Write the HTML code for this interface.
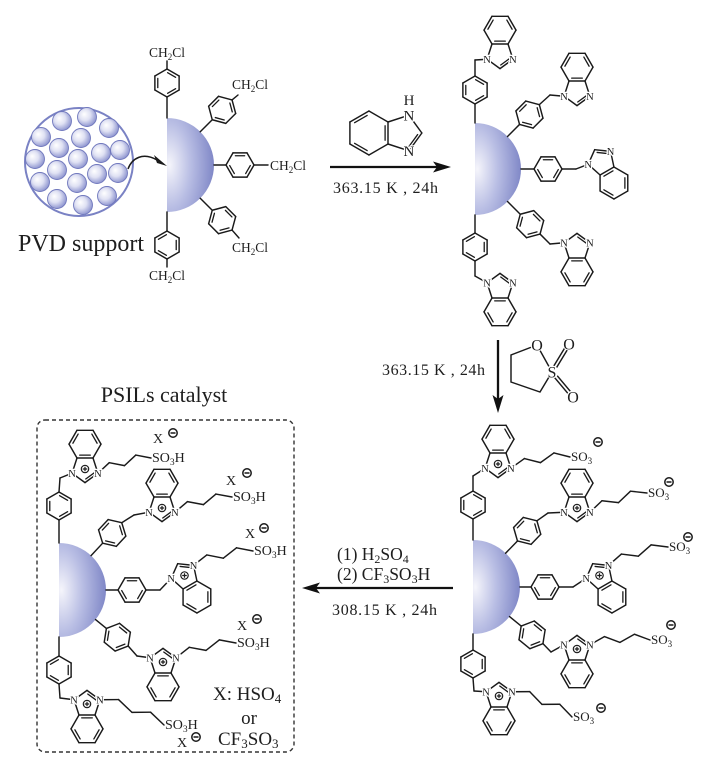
<!DOCTYPE html>
<html><head><meta charset="utf-8">
<style>
html,body{margin:0;padding:0;background:#fff;}
svg{display:block;}
text{font-family:"Liberation Serif",serif;fill:#1e1e1e;}
.lbl{paint-order:stroke;stroke:#fff;stroke-width:2.6;stroke-linejoin:round;}
</style></head><body>
<svg id="s" width="711" height="766" viewBox="0 0 711 766" xmlns="http://www.w3.org/2000/svg">
<defs>
<radialGradient id="hg" cx="0.05" cy="0.5" r="1" fx="0.05" fy="0.5">
<stop offset="0" stop-color="#f5f5fb"/>
<stop offset="0.45" stop-color="#b9bee4"/>
<stop offset="1" stop-color="#7a82c4"/>
</radialGradient>
<radialGradient id="bg" cx="0.42" cy="0.42" r="0.6" fx="0.35" fy="0.35">
<stop offset="0" stop-color="#ffffff"/>
<stop offset="0.5" stop-color="#dfe1f3"/>
<stop offset="1" stop-color="#8d94cf"/>
</radialGradient>
</defs>

<!-- porous support -->
<circle cx="79" cy="162" r="54" fill="#fff" stroke="#7a82c4" stroke-width="2"/>
<g fill="url(#bg)" stroke="#7078bd" stroke-width="0.9">
<circle cx="62" cy="121" r="9.5"/><circle cx="87" cy="117" r="9.5"/><circle cx="109" cy="128" r="9.5"/>
<circle cx="41" cy="137" r="9.5"/><circle cx="81" cy="138" r="9.5"/><circle cx="59" cy="148" r="9.5"/>
<circle cx="101" cy="153" r="9.5"/><circle cx="120" cy="150" r="9.5"/><circle cx="35" cy="159" r="9.5"/>
<circle cx="78" cy="159" r="9.5"/><circle cx="57" cy="170" r="9.5"/><circle cx="97" cy="174" r="9.5"/>
<circle cx="118" cy="173" r="9.5"/><circle cx="40" cy="182" r="9.5"/><circle cx="77" cy="183" r="9.5"/>
<circle cx="57" cy="199" r="9.5"/><circle cx="107" cy="196" r="9.5"/><circle cx="83" cy="205" r="9.5"/>
</g>
<path d="M128,169 C132,158 143,152 157,160" fill="none" stroke="#1a1a1a" stroke-width="1.5"/>
<polygon points="154,155 167,166 157,163" fill="#1a1a1a"/>

<!-- hemispheres -->
<path d="M167,118 A47,47 0 0 1 167,212 Z" fill="url(#hg)"/>
<path d="M475,123 A46,46 0 0 1 475,215 Z" fill="url(#hg)"/>
<path d="M473,540 A47,47 0 0 1 473,634 Z" fill="url(#hg)"/>
<path d="M59,543 A47,47 0 0 1 59,637 Z" fill="url(#hg)"/>

<!-- dashed box -->
<rect x="37" y="420" width="257" height="332" rx="8" fill="none" stroke="#333" stroke-width="1.4" stroke-dasharray="4 3"/>

<!-- arrows -->
<g stroke="#111" stroke-width="2.3">
<line x1="330" y1="167" x2="440" y2="167"/>
<line x1="498" y1="340" x2="498" y2="400"/>
<line x1="453" y1="588" x2="313" y2="588"/>
</g>
<g fill="#111">
<polygon points="451,167 433,161.5 437,167 433,172.5"/>
<polygon points="498,413 492.5,395 498,399 503.5,395"/>
<polygon points="302,588 320,582.5 316,588 320,593.5"/>
</g>

<!-- sultone -->
<g stroke="#1a1a1a" stroke-width="1.45" fill="none">
<path d="M537,345 L511,355 L511,382 L540,392 L552,372 Z"/>
<line x1="553.4" y1="372.8" x2="570.4" y2="344.8"/>
<line x1="550.6" y1="371.2" x2="567.6" y2="343.2"/>
<line x1="553.4" y1="371.2" x2="574.4" y2="396.2"/>
<line x1="550.6" y1="372.8" x2="571.6" y2="397.8"/>
</g>
<g fill="#fff">
<circle cx="537" cy="345" r="6.5"/><circle cx="552" cy="372" r="6.5"/>
<circle cx="569" cy="344" r="6.5"/><circle cx="573" cy="397" r="6.5"/>
</g>

<g id="L" stroke="#1a1a1a" stroke-linecap="round" fill="none"></g>
<g id="T"></g>

<!-- static text -->
<g font-size="13.5">
<text x="167" y="57" text-anchor="middle">CH<tspan dy="3" font-size="9">2</tspan><tspan dy="-3">Cl</tspan></text>
<text x="232" y="89">CH<tspan dy="3" font-size="9">2</tspan><tspan dy="-3">Cl</tspan></text>
<text x="270" y="170">CH<tspan dy="3" font-size="9">2</tspan><tspan dy="-3">Cl</tspan></text>
<text x="232" y="252">CH<tspan dy="3" font-size="9">2</tspan><tspan dy="-3">Cl</tspan></text>
<text x="167" y="280" text-anchor="middle">CH<tspan dy="3" font-size="9">2</tspan><tspan dy="-3">Cl</tspan></text>
</g>
<text x="18" y="251" font-size="24">PVD support</text>
<text x="333" y="193" font-size="16" textLength="105" lengthAdjust="spacing">363.15 K , 24h</text>
<text x="382" y="375" font-size="16" textLength="103" lengthAdjust="spacing">363.15 K , 24h</text>
<text x="337" y="560" font-size="17.5">(1) H<tspan dy="3" font-size="12">2</tspan><tspan dy="-3">SO</tspan><tspan dy="3" font-size="12">4</tspan></text>
<text x="337" y="580" font-size="17.5">(2) CF<tspan dy="3" font-size="12">3</tspan><tspan dy="-3">SO</tspan><tspan dy="3" font-size="12">3</tspan><tspan dy="-3">H</tspan></text>
<text x="332" y="615" font-size="16" textLength="105" lengthAdjust="spacing">308.15 K , 24h</text>
<text x="164" y="402" font-size="22" text-anchor="middle">PSILs catalyst</text>

<g font-size="16">
<text x="537" y="350.5" text-anchor="middle">O</text>
<text x="552" y="377.5" text-anchor="middle">S</text>
<text x="569" y="349.5" text-anchor="middle">O</text>
<text x="573" y="402.5" text-anchor="middle">O</text>
</g>

<!-- panel 3 SO3 -->
<g font-size="13">
<text x="571" y="461">SO<tspan dy="3" font-size="9">3</tspan></text>
<text x="648" y="497">SO<tspan dy="3" font-size="9">3</tspan></text>
<text x="669" y="551">SO<tspan dy="3" font-size="9">3</tspan></text>
<text x="651" y="644">SO<tspan dy="3" font-size="9">3</tspan></text>
<text x="573" y="721">SO<tspan dy="3" font-size="9">3</tspan></text>
</g>
<!-- panel 4 SO3H and X -->
<g font-size="14">
<text x="152" y="462">SO<tspan dy="3" font-size="9.5">3</tspan><tspan dy="-3">H</tspan></text>
<text x="233" y="501">SO<tspan dy="3" font-size="9.5">3</tspan><tspan dy="-3">H</tspan></text>
<text x="254" y="555">SO<tspan dy="3" font-size="9.5">3</tspan><tspan dy="-3">H</tspan></text>
<text x="237" y="647">SO<tspan dy="3" font-size="9.5">3</tspan><tspan dy="-3">H</tspan></text>
<text x="165" y="729">SO<tspan dy="3" font-size="9.5">3</tspan><tspan dy="-3">H</tspan></text>
<text x="153" y="443">X</text>
<text x="226" y="485">X</text>
<text x="245" y="538">X</text>
<text x="237" y="630">X</text>
<text x="177" y="747">X</text>
</g>
<g font-size="19">
<text x="213" y="700">X: HSO<tspan dy="3" font-size="13">4</tspan></text>
<text x="249" y="724" text-anchor="middle">or</text>
<text x="218" y="745">CF<tspan dy="3" font-size="13">3</tspan><tspan dy="-3">SO</tspan><tspan dy="3" font-size="13">3</tspan></text>
</g>

<!-- minus charges -->
<g fill="#fff" stroke="#1a1a1a" stroke-width="1.5">
<circle cx="598" cy="442" r="4.2"/><circle cx="669" cy="482" r="4.2"/><circle cx="688" cy="537" r="4.2"/>
<circle cx="671" cy="625" r="4.2"/><circle cx="601" cy="708" r="4.2"/>
<circle cx="173" cy="433" r="4.2"/><circle cx="247" cy="473" r="4.2"/><circle cx="264" cy="528" r="4.2"/>
<circle cx="257" cy="619" r="4.2"/><circle cx="196" cy="737" r="4.2"/>
</g>
<g stroke="#1a1a1a" stroke-width="1.6">
<path d="M595.5,442h5M666.5,482h5M685.5,537h5M668.5,625h5M598.5,708h5M170.5,433h5M244.5,473h5M261.5,528h5M254.5,619h5M193.5,737h5"/>
</g>
</svg>
<script>
(function(){
const NS="http://www.w3.org/2000/svg";
const gL=document.getElementById('L'), gT=document.getElementById('T');
function mk(t,a,p){const e=document.createElementNS(NS,t);for(const k in a)e.setAttribute(k,a[k]);p.appendChild(e);return e;}
const D=d=>{const r=d*Math.PI/180;return [Math.cos(r),Math.sin(r)];};
const A=(a,b)=>[a[0]+b[0],a[1]+b[1]];
const S=(a,k)=>[a[0]*k,a[1]*k];
const Sb=(a,b)=>[a[0]-b[0],a[1]-b[1]];
function seg(a,b,w){mk('line',{x1:a[0].toFixed(2),y1:a[1].toFixed(2),x2:b[0].toFixed(2),y2:b[1].toFixed(2),'stroke-width':w||1.45},gL);}
function inner(a,b,c,off){off=off||2.9;const m=S(A(a,b),0.5);let v=Sb(c,m);const l=Math.hypot(v[0],v[1]);v=S(v,off/l);const d=Sb(b,a);const a2=A(a,S(d,0.17)),b2=A(b,S(d,-0.17));seg(A(a2,v),A(b2,v),1.3);}
function hex(c,r,ang){const v=[];for(let i=0;i<6;i++)v.push(A(c,S(D(ang+60*i),r)));for(let i=0;i<6;i++)seg(v[i],v[(i+1)%6]);inner(v[1],v[2],c);inner(v[3],v[4],c);inner(v[5],v[0],c);return v;}
function arm(hc,hr,ang,dist,ch2){const c=A(hc,S(D(ang),dist));const v=hex(c,14,ang+180);seg(A(hc,S(D(ang),hr)),v[0]);seg(v[3],ch2);return v[3];}
function lab(p,s,fs){const e=mk('text',{x:p[0].toFixed(1),y:(p[1]+fs*0.34).toFixed(1),'font-size':fs,'text-anchor':'middle','class':'lbl'},gT);e.textContent=s;}
function plus(p){mk('circle',{cx:p[0].toFixed(1),cy:p[1].toFixed(1),r:3.7,fill:'#fff',stroke:'#1a1a1a','stroke-width':1.2},gT);mk('path',{d:'M'+(p[0]-2.3).toFixed(1)+','+p[1].toFixed(1)+'h4.6M'+p[0].toFixed(1)+','+(p[1]-2.3).toFixed(1)+'v4.6',stroke:'#1a1a1a','stroke-width':1.2,fill:'none'},gT);}
function bim(M,ud,side,L,o){o=o||{};const u=D(ud),w=S([-u[1],u[0]],side);const G=(a,b)=>A(M,S(A(S(u,a),S(w,b)),L));
 const C7a=G(0,0.5),C3a=G(0,-0.5),N1=G(0.951,0.809),C2=G(1.539,0),N3=G(0.951,-0.809),C7=G(-0.866,1),C6=G(-1.732,0.5),C5=G(-1.732,-0.5),C4=G(-0.866,-1),Bc=G(-0.866,0),Pc=G(0.688,0);
 [[C7a,N1],[N1,C2],[C2,N3],[N3,C3a],[C3a,C7a],[C7a,C7],[C7,C6],[C6,C5],[C5,C4],[C4,C3a]].forEach(q=>seg(q[0],q[1]));
 inner(C7,C6,Bc);inner(C5,C4,Bc);inner(C3a,C7a,Bc);inner(C2,N3,Pc,2.5);
 const fs=o.fs||10.5;lab(N1,'N',fs);lab(N3,'N',fs);if(o.plus)plus(Pc);
 return {N1:N1,N3:N3};}
function chain(st,en,h){const n=4;const d=Sb(en,st);let p=[-d[1],d[0]];if(p[1]>0)p=S(p,-1);const l=Math.hypot(p[0],p[1]);p=S(p,h/l);let prev=st;for(let k=1;k<=n;k++){let q=A(st,S(d,k/n));if(k%2==1)q=A(q,p);seg(prev,q);prev=q;}}

// panel 1
const h1=[167,165];
arm(h1,47,-90,82,[167,61]);
arm(h1,47,-45,78,[238,95]);
arm(h1,47,0,73,[268,165]);
arm(h1,47,45,78,[239,238]);
arm(h1,47,90,80,[167,267]);

// reagent
bim([388,133],0,-1,22,{fs:15});
lab([409,100],'H',15);

// panel 2
const h2=[475,169];let b;
function link(c,bb){seg(c,bb.N1);}
arm(h2,46,-90,79,[475,60]); b=bim([500,44],90,1,16); link([475,60],b);
arm(h2,46,-45,77,[550,95]); b=bim([577,81],90,1,16); link([550,95],b);
arm(h2,46,0,73,[576,169]); b=bim([607,171],-120,-1,16); link([576,169],b);
arm(h2,46,45,78,[550,244]); b=bim([577,258],-90,-1,16); link([550,244],b);
arm(h2,46,90,78,[475,276]); b=bim([500,298],-90,-1,16); link([475,276],b);

// panel 3
const h3=[473,587];
arm(h3,47,-90,82,[473,476]); b=bim([498,453],90,1,16,{plus:1}); link([473,476],b); chain(b.N3,[570,457],7);
arm(h3,47,-46,78,[548,513]); b=bim([577,497],90,1,16,{plus:1}); link([548,513],b); chain(b.N3,[647,493],7);
arm(h3,47,0,72,[573,587]); b=bim([605,585],-120,-1,16,{plus:1}); link([573,587],b); chain(b.N3,[668,547],7);
arm(h3,47,39,76,[551,652]); b=bim([577,660],-90,-1,16,{plus:1}); link([551,652],b); chain(b.N3,[650,640],7);
arm(h3,47,90,77,[474,691]); b=bim([499,707],-90,-1,16,{plus:1}); link([474,691],b); chain(b.N3,[572,717],7);

// panel 4
const h4=[59,590];
arm(h4,47,-90,84,[60,478]); b=bim([85,458],90,1,16,{plus:1}); link([60,478],b); chain(b.N3,[151,458],7);
arm(h4,47,-47,78,[134,515]); b=bim([162,497],90,1,16,{plus:1}); link([134,515],b); chain(b.N3,[232,497],7);
arm(h4,47,0,73,[160,590]); b=bim([190,585],-120,-1,16,{plus:1}); link([160,590],b); chain(b.N3,[253,551],7);
arm(h4,47,39,75,[137,656]); b=bim([163,673],-90,-1,16,{plus:1}); link([137,656],b); chain(b.N3,[236,643],7);
arm(h4,47,90,80,[60,698]); b=bim([87,715],-90,-1,16,{plus:1}); link([60,698],b); chain(b.N3,[164,725],7);
})();
</script>
</body></html>
